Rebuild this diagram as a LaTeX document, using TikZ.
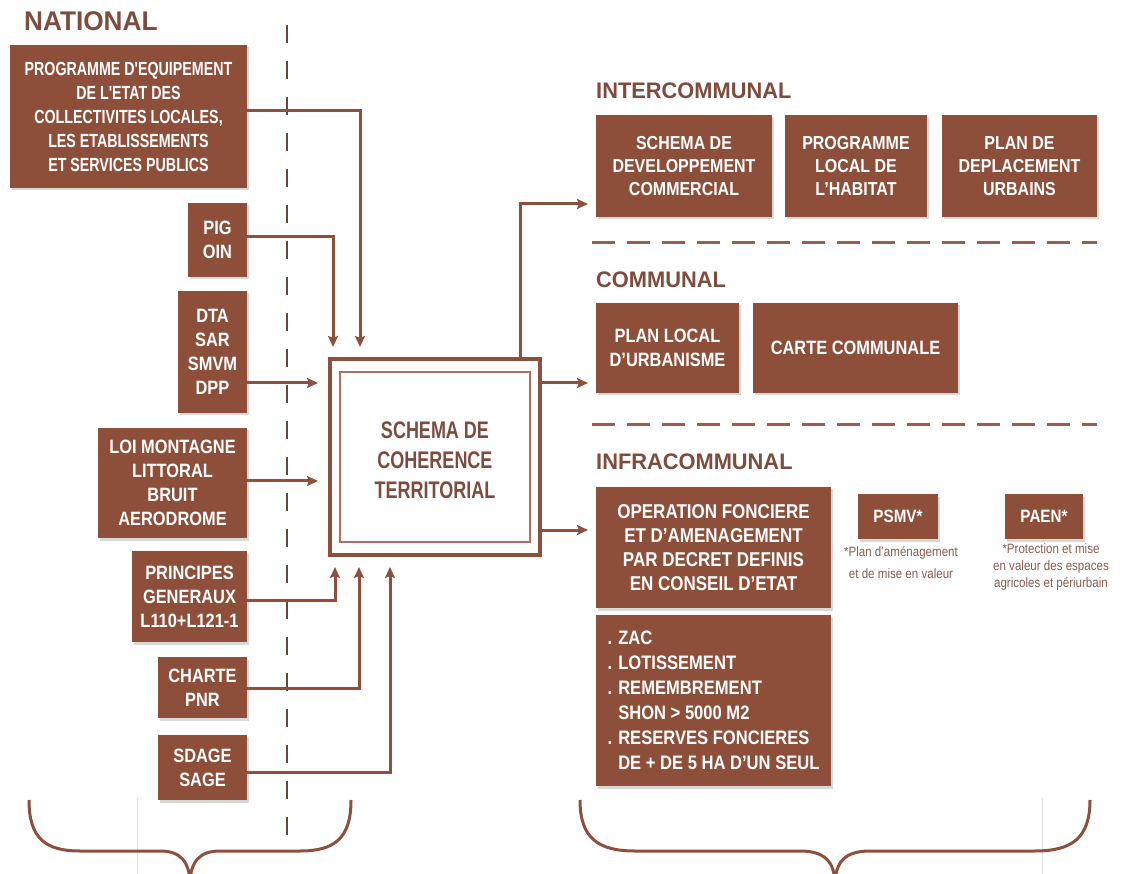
\documentclass[tikz,border=0pt]{standalone}
\usepackage{fontspec}
\setmainfont{Liberation Sans}
\newfontfamily\condA{Liberation Sans}[FakeStretch=0.85]
\newfontfamily\condB{Liberation Sans}[FakeStretch=0.75]
\newfontfamily\titlef{Liberation Sans}[FakeStretch=0.97]
\usetikzlibrary{arrows.meta,shadows,calc}
\definecolor{boxbrown}{RGB}{141,79,58}
\definecolor{linebrown}{RGB}{140,80,60}
\definecolor{titlebrown}{RGB}{126,76,62}
\definecolor{dashbrown}{RGB}{150,95,80}
\definecolor{vdash}{RGB}{105,70,60}
\definecolor{innerbrown}{RGB}{172,112,96}
\definecolor{captbrown}{RGB}{135,92,78}
\tikzset{
  box/.style={fill=boxbrown, draw=none, text=white, inner sep=0pt, align=center,
    drop shadow={opacity=0.3, shadow xshift=2pt, shadow yshift=-2.5pt}},
  fa/.style={font=\condA\bfseries\fontsize{#1}{24}\selectfont},
  conn/.style={draw=linebrown, line width=3pt, -{Stealth[length=11pt,width=10pt,inset=2pt]}},
  level/.style={anchor=base west, text=titlebrown, inner sep=0pt, font=\titlef\bfseries\fontsize{22.5}{24}\selectfont},
  hdash/.style={draw=dashbrown, line width=3pt, dash pattern=on 23pt off 12pt},
  caption/.style={text=captbrown, align=center, inner sep=0pt},
  brace/.style={draw=linebrown, line width=3pt},
}
\begin{document}
\begin{tikzpicture}[x=1pt,y=-1pt]
\useasboundingbox[fill=white] (0,0) rectangle (1125,874);

% titles
\node[level, font=\titlef\bfseries\fontsize{27}{30}\selectfont] (tnat) at (24,31) {NATIONAL};
\node[level] (tinter) at (596,99) {INTERCOMMUNAL};
\node[level] (tcomm) at (596,288) {COMMUNAL};
\node[level] (tinfra) at (596,470) {INFRACOMMUNAL};

% vertical dashed separator
\coordinate (vtop) at (287,25);
\coordinate (vbot) at (287,848);
\draw[draw=vdash, line width=2.5pt, dash pattern=on 18pt off 18pt] (vtop) -- (vbot);

% horizontal dashed separators
\coordinate (h1a) at (592,243); \coordinate (h1b) at (1097,243);
\coordinate (h2a) at (592,425); \coordinate (h2b) at (1097,425);
\draw[hdash] (h1a) -- (h1b);
\draw[hdash] (h2a) -- (h2b);

% national boxes
\node[box, minimum width=237pt, minimum height=143pt, font=\condB\bfseries\fontsize{19}{24}\selectfont] (prog) at (128.5,116.5)
  {PROGRAMME D'EQUIPEMENT\\DE L'ETAT DES\\COLLECTIVITES LOCALES,\\LES ETABLISSEMENTS\\ET SERVICES PUBLICS};
\node[box, fa=19.3, minimum width=59pt, minimum height=74pt] (pig) at (217.5,240) {PIG\\OIN};
\node[box, fa=19.3, minimum width=69pt, minimum height=122pt] (dta) at (212.5,352) {DTA\\SAR\\SMVM\\DPP};
\node[box, fa=19.3, minimum width=149pt, minimum height=110pt] (loi) at (172.5,483) {LOI MONTAGNE\\LITTORAL\\BRUIT\\AERODROME};
\node[box, fa=19.3, minimum width=115pt, minimum height=91pt] (princ) at (189.5,596.5) {PRINCIPES\\GENERAUX\\L110+L121-1};
\node[box, fa=19.3, minimum width=89pt, minimum height=61pt] (charte) at (202.5,687.5) {CHARTE\\PNR};
\node[box, fa=19.3, minimum width=89pt, minimum height=65pt] (sdage) at (202.5,767.5) {SDAGE\\SAGE};

% central box
\node[draw=linebrown, line width=4pt, fill=white, minimum width=210pt, minimum height=196pt, inner sep=0pt] (scot) at (435,457) {};
\node[draw=innerbrown, line width=1.6pt, minimum width=190pt, minimum height=170pt, inner sep=0pt] (scotin) at (435,457) {};
\node[align=center, inner sep=0pt, text=titlebrown, font=\condB\bfseries\fontsize{24}{30}\selectfont] (scott) at (435,460) {SCHEMA DE\\COHERENCE\\TERRITORIAL};

% arrow tips toward the central box
\coordinate (t1) at (360,347);
\coordinate (t2) at (333,347);
\coordinate (t3) at (318,383);
\coordinate (t4) at (318,481);
\coordinate (t5) at (335,567);
\coordinate (t6) at (359,567);
\coordinate (t7) at (390,567);

\draw[conn] (prog.east |- 0,111) -| (t1);
\draw[conn] (pig.east |- 0,237) -| (t2);
\draw[conn] (dta.east |- t3) -- (t3);
\draw[conn] (loi.east |- t4) -- (t4);
\draw[conn] (princ.east |- 0,600) -| (t5);
\draw[conn] (charte.east |- 0,688) -| (t6);
\draw[conn] (sdage.east |- 0,772) -| (t7);

% intercommunal
\node[box, font=\condA\bfseries\fontsize{18.8}{23}\selectfont, minimum width=176pt, minimum height=102pt] (sdc) at (684,166) {SCHEMA DE\\DEVELOPPEMENT\\COMMERCIAL};
\node[box, font=\condA\bfseries\fontsize{18.8}{23}\selectfont, minimum width=142pt, minimum height=102pt] (plh) at (856,166) {PROGRAMME\\LOCAL DE\\L’HABITAT};
\node[box, font=\condA\bfseries\fontsize{18.8}{23}\selectfont, minimum width=155pt, minimum height=102pt] (pdu) at (1019.5,166) {PLAN DE\\DEPLACEMENT\\URBAINS};

% communal
\node[box, font=\condA\bfseries\fontsize{19.3}{24}\selectfont, minimum width=143pt, minimum height=90pt] (plu) at (667.5,348) {PLAN LOCAL\\D’URBANISME};
\node[box, font=\condA\bfseries\fontsize{19.3}{24}\selectfont, minimum width=205pt, minimum height=90pt] (cc) at (855.5,348) {CARTE COMMUNALE};

% infracommunal
\node[box, font=\condA\bfseries\fontsize{20}{24}\selectfont, minimum width=235pt, minimum height=121pt] (ofa) at (713.5,547.5)
  {OPERATION FONCIERE\\ET D’AMENAGEMENT\\PAR DECRET DEFINIS\\EN CONSEIL D’ETAT};
\node[box, align=left, font=\condA\bfseries\fontsize{19.5}{25}\selectfont, minimum width=235pt, minimum height=171pt] (zac) at (713.5,700.5)
  {. ZAC\\. LOTISSEMENT\\. REMEMBREMENT\\\phantom{. }SHON > 5000 M2\\. RESERVES FONCIERES\\\phantom{. }DE + DE 5 HA D’UN SEUL};
\node[box, font=\condA\bfseries\fontsize{17.9}{22}\selectfont, minimum width=80pt, minimum height=45pt] (psmv) at (898,516.5) {PSMV*};
\node[box, font=\condA\bfseries\fontsize{17.9}{22}\selectfont, minimum width=78pt, minimum height=45pt] (paen) at (1044,516.5) {PAEN*};
\node[caption, font=\condA\fontsize{13.6}{22}\selectfont, anchor=north] (psmvc) at (901,546) {*Plan d’aménagement\\et de mise en valeur};
\node[caption, font=\condA\fontsize{13.6}{17}\selectfont, anchor=north] (paenc) at (1051,543) {*Protection et mise\\en valeur des espaces\\agricoles et périurbain};

% right connectors
\coordinate (r1) at (588,204);
\coordinate (r2) at (588,383);
\coordinate (r3) at (588,530);
\draw[conn] (scot.north -| 520,0) |- (r1);
\draw[conn] (scot.east |- r2) -- (r2);
\draw[conn] (scot.east |- r3) -- (r3);

% faint guide lines
\coordinate (g1a) at (137,798); \coordinate (g1b) at (137,874);
\coordinate (g2a) at (1042,798); \coordinate (g2b) at (1042,874);
\draw[black!12, line width=0.8pt] (g1a) -- (g1b);
\draw[black!12, line width=0.8pt] (g2a) -- (g2b);

% braces
\begin{scope}
\clip (0,0) rectangle (1125,874);
\coordinate (b1l) at (29,800); \coordinate (b1r) at (351,800); \coordinate (b1m) at (190,885);
\draw[brace] (b1l) .. controls (29,838) and (45,851) .. (80,851) -- (160,851) .. controls (180,851) and (190,861) .. (b1m);
\draw[brace] (b1r) .. controls (351,838) and (335,851) .. (300,851) -- (220,851) .. controls (200,851) and (190,861) .. (b1m);
\coordinate (b2l) at (580,800); \coordinate (b2r) at (1090,800); \coordinate (b2m) at (835,885);
\draw[brace] (b2l) .. controls (580,838) and (598,851) .. (635,851) -- (800,851) .. controls (824,851) and (835,861) .. (b2m);
\draw[brace] (b2r) .. controls (1090,838) and (1072,851) .. (1035,851) -- (870,851) .. controls (846,851) and (835,861) .. (b2m);
\end{scope}
\end{tikzpicture}
\end{document}
